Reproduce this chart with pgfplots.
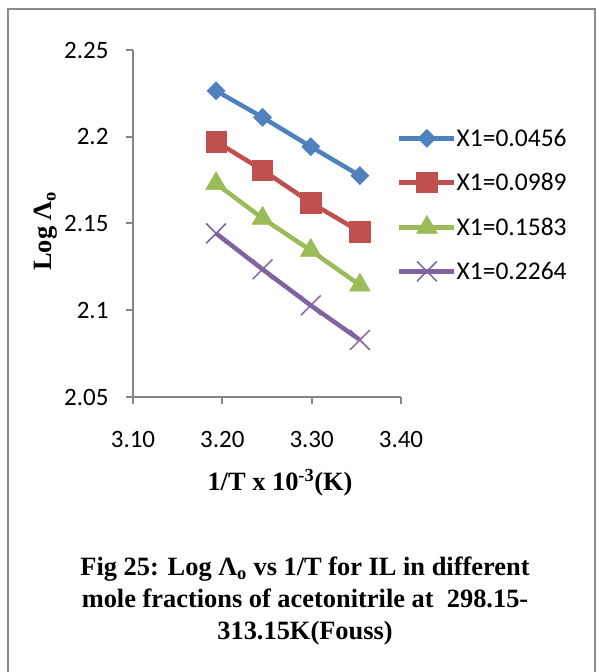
\documentclass[border=0pt]{standalone}
\usepackage{fontspec}
\setmainfont{Liberation Serif}
\newfontfamily\calibri{Carlito}
\usepackage{pgfplots}
\pgfplotsset{compat=1.18}
\definecolor{sblue}{HTML}{4F81BD}
\definecolor{sred}{HTML}{C0504D}
\definecolor{sgreen}{HTML}{9BBB59}
\definecolor{spurple}{HTML}{8064A2}
\definecolor{axgray}{HTML}{868686}
\definecolor{framegray}{HTML}{8C8C8C}

\begin{document}
\begin{tikzpicture}[x=1pt,y=1pt]
\useasboundingbox (0,0) rectangle (597,672);
\draw[framegray, line width=2pt] (7.5,-5) -- (7.5,662.5) -- (595,662.5) -- (595,-5);

\begin{axis}[
  at={(133pt,275pt)}, anchor=south west,
  scale only axis, width=268pt, height=347pt,
  xmin=3.1, xmax=3.4, ymin=2.05, ymax=2.25,
  axis lines*=left,
  axis line style={axgray, line width=2pt},
  tick style={axgray, line width=2pt},
  tick align=outside, major tick length=7pt,
  xtick={3.1,3.2,3.3,3.4}, xticklabels={3.10,3.20,3.30,3.40},
  ytick={2.05,2.1,2.15,2.2,2.25}, yticklabels={2.05,2.1,2.15,2.2,2.25},
  ticklabel style={font=\calibri\fontsize{25}{30}\selectfont},
  yticklabel style={xshift=-14pt},
  xticklabel style={yshift=-24pt},
  clip=false,
  legend style={at={(0.985,0.5537)}, anchor=west, draw=none, fill=none,
    inner sep=0pt, row sep=22pt,
    font=\calibri\fontsize{25.5}{30}\selectfont,
    nodes={inner sep=0pt, text height=19pt, text depth=3pt},
    /tikz/every even column/.append style={column sep=3pt}},
  legend cell align=left,
  legend image code/.code={
    \draw[mark repeat=2, mark phase=2] plot coordinates {(0pt,0pt) (27.5pt,0pt) (55pt,0pt)};},
]
\addplot[color=sblue, line width=4.5pt, mark=square*, mark size=6.4pt,
  mark options={rotate=45, line width=0.5pt, fill=sblue}] coordinates {
  (3.193,2.2265) (3.245,2.2112) (3.299,2.1943) (3.354,2.1776)
};
\addlegendentry{X1=0.0456}
\addplot[color=sred, line width=4.5pt, mark=square*, mark size=10.2pt,
  mark options={line width=0.5pt, fill=sred}] coordinates {
  (3.193,2.1972) (3.245,2.1808) (3.299,2.1620) (3.354,2.1453)
};
\addlegendentry{X1=0.0989}
\addplot[color=sgreen, line width=4.5pt, mark=triangle*, mark size=12pt,
  mark options={line width=0.5pt, fill=sgreen}] coordinates {
  (3.193,2.1730) (3.245,2.1530) (3.299,2.1345) (3.354,2.1145)
};
\addlegendentry{X1=0.1583}
\addplot[color=spurple, line width=4.5pt, mark=x, mark size=14pt,
  mark options={line width=1.5pt}] coordinates {
  (3.193,2.1443) (3.245,2.1236) (3.299,2.1028) (3.354,2.0829)
};
\addlegendentry{X1=0.2264}
\end{axis}

\node[rotate=90, font=\bfseries\fontsize{26.4}{30}\selectfont] at (46,441) {Log Λ\textsubscript{o}};
\node[anchor=base, font=\bfseries\fontsize{26.4}{30}\selectfont] at (280,181) {1/T x 10\textsuperscript{-3}(K)};
\node[align=center, font=\bfseries\fontsize{26.4}{32}\selectfont] at (305,71) {Fig 25: Log Λ\textsubscript{o} vs 1/T for IL in different\\mole fractions of acetonitrile at~ 298.15-\\313.15K(Fouss)};
\end{tikzpicture}
\end{document}
